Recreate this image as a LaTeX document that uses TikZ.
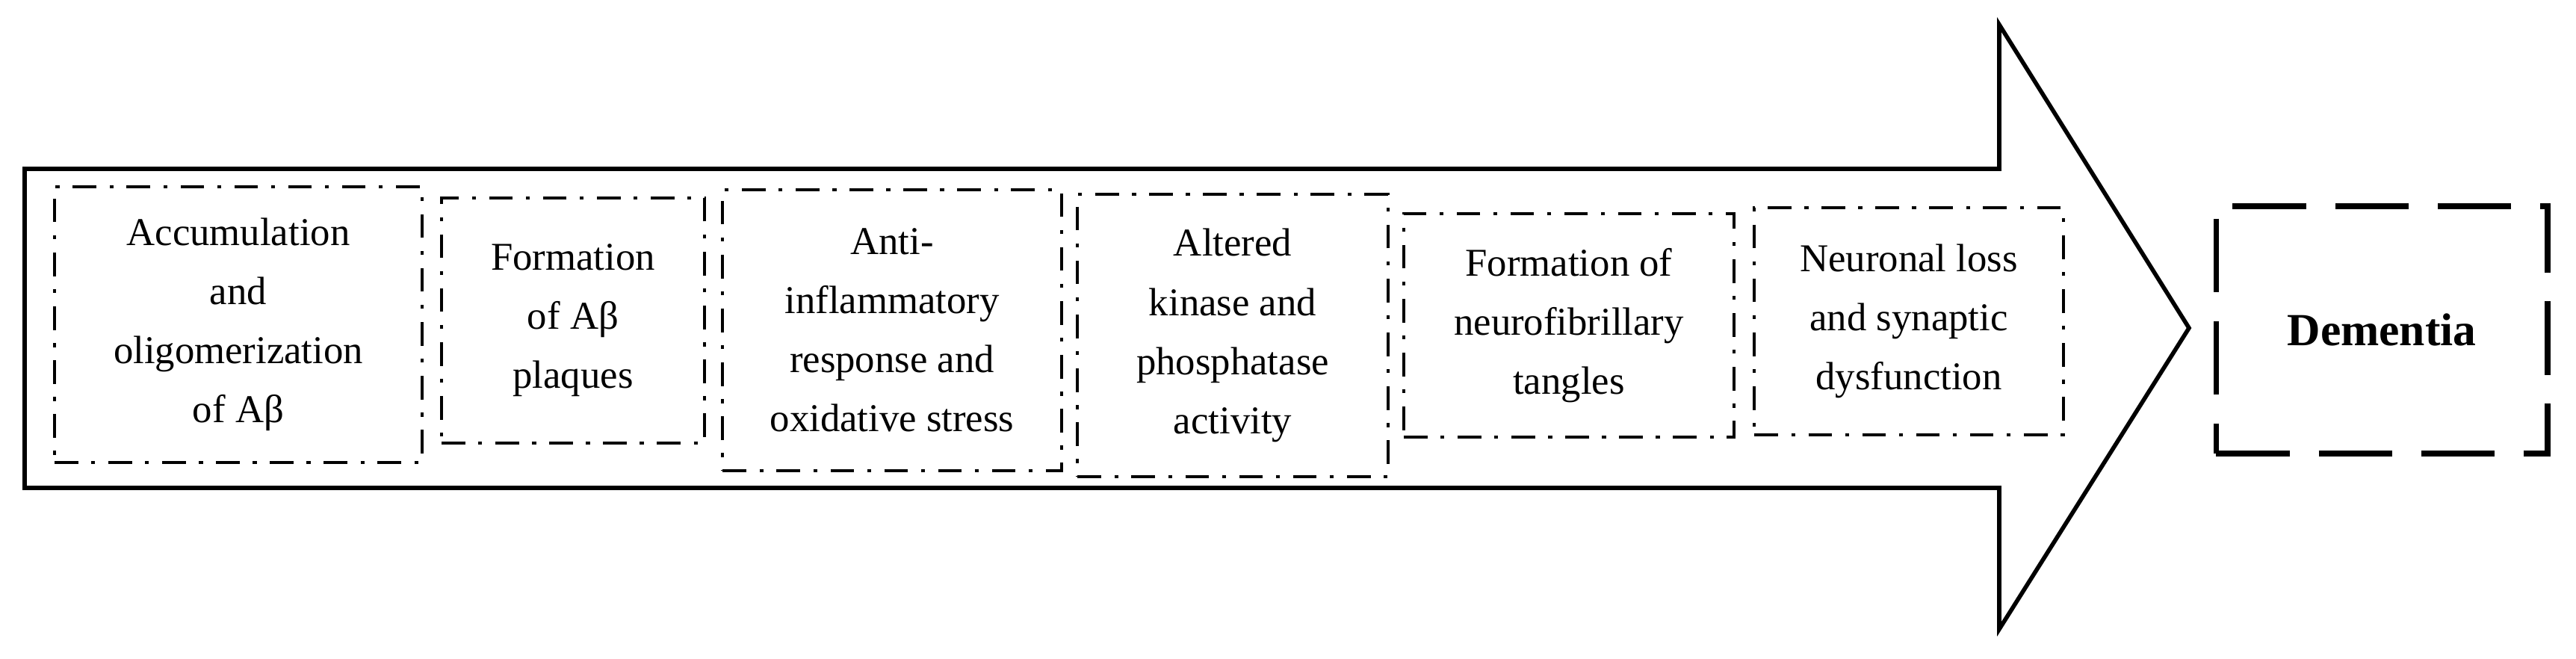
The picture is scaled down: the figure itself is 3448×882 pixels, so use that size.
\documentclass[tikz,border=0pt]{standalone}
\usepackage{fontspec}
\setmainfont{Liberation Serif}
\usepackage{tikz}

\begin{document}
\begin{tikzpicture}[x=0.01cm, y=-0.01cm,
    stage/.style={draw, line width=1.1pt, dash pattern=on 9pt off 5pt on 1.5pt off 5pt,
        align=center, font=\fontsize{15}{22.5}\selectfont},
    outcome/.style={draw, line width=2.2pt, dash pattern=on 28pt off 11pt,
        font=\fontsize{17.5}{22.5}\selectfont\bfseries}]
    \useasboundingbox (0,0) rectangle (3448,882);

    % big arrow
    \draw[line width=1.6pt] (33,226) -- (2676,226) -- (2676,33) -- (2930,439)
        -- (2676,842) -- (2676,653) -- (33,653) -- cycle;

    \node[stage, minimum width=4.92cm, minimum height=3.69cm] (accum) at (319,434.5) {
        Accumulation\\ and\\ oligomerization\\ of Aβ
    };
    \node[stage, minimum width=3.52cm, minimum height=3.28cm] (plaques) at (767,429) {
        Formation\\ of Aβ\\ plaques
    };
    \node[stage, minimum width=4.53cm, minimum height=3.76cm] (stress) at (1194,442) {
        Anti-\\ inflammatory\\ response and\\ oxidative stress
    };
    \node[stage, minimum width=4.15cm, minimum height=3.78cm] (kinase) at (1650,449) {
        Altered\\ kinase and\\ phosphatase\\ activity
    };
    \node[stage, minimum width=4.42cm, minimum height=2.99cm] (tangles) at (2100,435.5) {
        Formation of\\ neurofibrillary\\ tangles
    };
    \node[stage, minimum width=4.13cm, minimum height=3.04cm] (loss) at (2555,430) {
        Neuronal loss\\ and synaptic\\ dysfunction
    };

    \node[outcome, minimum width=4.43cm, minimum height=3.31cm] (dementia) at (3188,441.5) {Dementia};
\end{tikzpicture}
\end{document}
